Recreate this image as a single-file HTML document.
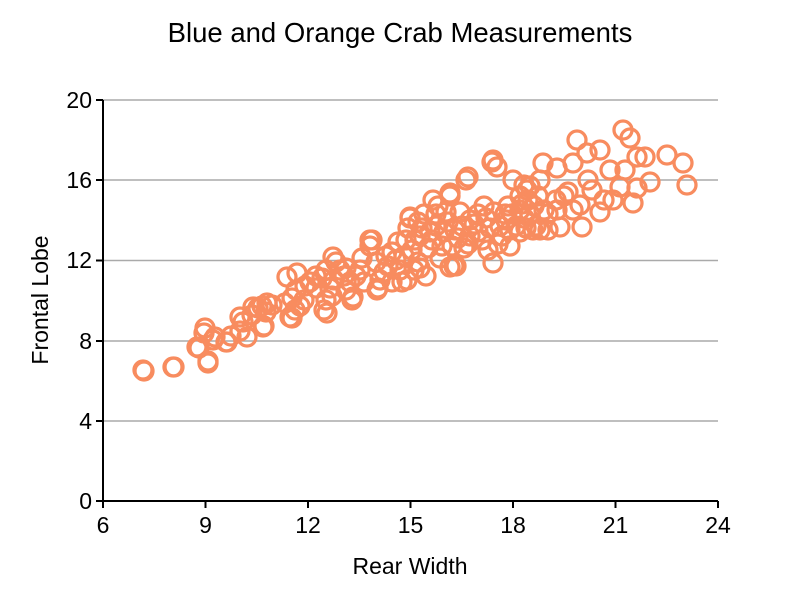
<!DOCTYPE html>
<html><head><meta charset="utf-8"><style>body{margin:0;background:#fff}svg{display:block}text{font-family:"Liberation Sans",Arial,sans-serif}</style></head>
<body>
<svg width="800" height="600" viewBox="0 0 800 600">
<text x="400" y="42" text-anchor="middle" font-size="27.5">Blue and Orange Crab Measurements</text>
<g stroke="#aaa" stroke-width="1.5">
<line x1="103" x2="718" y1="100" y2="100"/><line x1="103" x2="718" y1="180" y2="180"/><line x1="103" x2="718" y1="260.5" y2="260.5"/><line x1="103" x2="718" y1="341" y2="341"/><line x1="103" x2="718" y1="421" y2="421"/>
</g>
<g stroke="#000" stroke-width="2" fill="none">
<line x1="103" x2="103" y1="100" y2="502"/><line x1="102" x2="718" y1="501" y2="501"/>
<line x1="96" x2="103" y1="100" y2="100"/><line x1="96" x2="103" y1="180" y2="180"/><line x1="96" x2="103" y1="260.5" y2="260.5"/><line x1="96" x2="103" y1="341" y2="341"/><line x1="96" x2="103" y1="421" y2="421"/><line x1="96" x2="103" y1="501" y2="501"/>
<line x1="103" x2="103" y1="501" y2="508"/><line x1="205.5" x2="205.5" y1="501" y2="508"/><line x1="308" x2="308" y1="501" y2="508"/><line x1="410.5" x2="410.5" y1="501" y2="508"/><line x1="513" x2="513" y1="501" y2="508"/><line x1="615.5" x2="615.5" y1="501" y2="508"/><line x1="718" x2="718" y1="501" y2="508"/>
</g>
<g font-size="23" text-anchor="end">
<text x="92" y="108">20</text><text x="92" y="188">16</text><text x="92" y="268">12</text><text x="92" y="349">8</text><text x="92" y="429">4</text><text x="92" y="509">0</text>
</g>
<g font-size="23" text-anchor="middle">
<text x="103" y="533">6</text><text x="205.5" y="533">9</text><text x="308" y="533">12</text><text x="410.5" y="533">15</text><text x="513" y="533">18</text><text x="615.5" y="533">21</text><text x="718" y="533">24</text>
<text x="410" y="574">Rear Width</text>
<text transform="translate(48,300) rotate(-90)">Frontal Lobe</text>
</g>
<g id="pts" fill="none" stroke="#f88c5f" stroke-width="3.3"></g>
</svg>
<script>
var p=[144,371,174,367,199,348,208,361,204,333,213,340,226,342,231,336,243,322,240,331,252,315,258,308,264,326,262,306,266,312,272,305,285,303,292,298,296,290,292,318,295,310,300,306,304,300,305,286,310,282,316,276,322,278,326,270,326,300,324,310,330,288,334,280,336,262,340,270,344,276,346,290,350,282,352,300,356,276,360,270,362,258,370,246,372,240,376,262,378,288,380,280,384,272,388,266,392,252,396,260,400,270,404,256,406,240,408,228,410,218,412,250,414,270,418,262,420,236,422,228,424,214,426,276,428,248,432,240,436,226,438,206,440,258,444,232,448,222,450,196,452,246,454,266,456,266,458,238,460,212,462,226,464,248,466,180,470,236,474,224,478,214,482,240,486,218,490,228,492,162,494,212,498,244,502,236,506,220,508,206,510,230,512,214,516,226,520,196,522,204,524,218,526,228,530,214,534,206,536,226,540,230,544,210,548,230,524,185,530,186,538,196,
623,130,630,138,637,157,645,157,667,155,683,163,687,185,650,182,637,188,633,203,620,187,600,212,613,200,582,227,573,210,568,192,557,210,560,227,577,140,587,153,600,150,610,170,588,180,573,163,557,168,543,163,540,180,527,190,513,180,493,160,497,167,468,177,450,193,433,200,450,267,493,263,533,230,520,210,
143,370,173,367,208,363,197,347,205,328,215,337,227,342,247,337,240,317,253,307,267,303,263,327,287,277,297,273,290,317,327,313,333,257,353,297,370,240,377,290,410,217,407,280,
415,240,430,232,442,246,455,230,468,244,478,232,488,250,500,226,510,246,418,222,436,214,446,212,470,220,484,206,505,214,520,232,548,214,556,200,564,196,592,190,604,200,625,170,580,205,528,200,316,288,332,296,346,268,364,282,386,256,398,242,402,282,392,282,420,268];
var g=document.getElementById('pts'),s='';
for(var i=0;i<p.length;i+=2)s+='<circle cx="'+p[i]+'" cy="'+p[i+1]+'" r="9"/>';
g.innerHTML=s;
</script>
</body></html>
